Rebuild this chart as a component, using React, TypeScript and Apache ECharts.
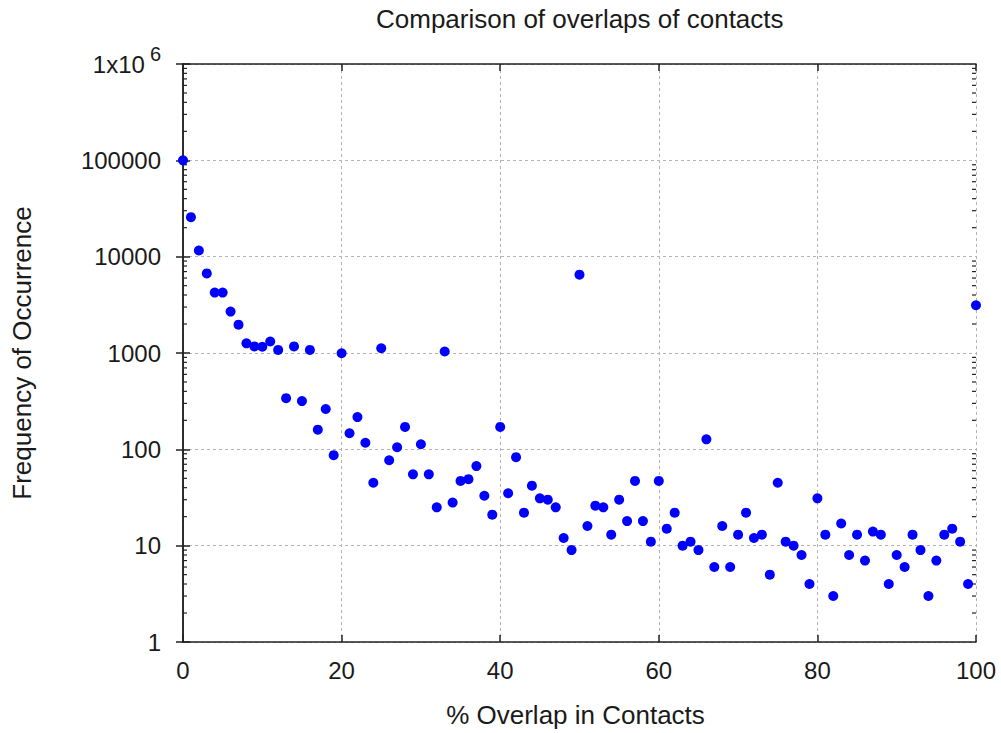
import React, { useEffect, useRef } from "react";
import * as echarts from "echarts";

// Frequency of occurrence for % overlap 0..100 (index = % overlap)
const frequency: number[] = [
  100000, 25700, 11600, 6700, 4240, 4240, 2690, 1970, 1260, 1170,
  1160, 1316, 1077, 340, 1170, 317, 1077, 160, 262, 87,
  995, 147, 216, 117, 45, 1120, 77, 105, 171, 55,
  113, 55, 25, 1036, 28, 47, 49, 67, 33, 21,
  171, 35, 83, 22, 42, 31, 30, 25, 12, 9,
  6500, 16, 26, 25, 13, 30, 18, 47, 18, 11,
  47, 15, 22, 10, 11, 9, 127, 6, 16, 6,
  13, 22, 12, 13, 5, 45, 11, 10, 8, 4,
  31, 13, 3, 17, 8, 13, 7, 14, 13, 4,
  8, 6, 13, 9, 3, 7, 13, 15, 11, 4,
  3130,
];

const xTickValues = [0, 20, 40, 60, 80, 100];
const yDecades = [1, 10, 100, 1000, 10000, 100000, 1000000];
const minorMultipliers = [2, 3, 4, 5, 6, 7, 8, 9];

const titleText = "Comparison of overlaps of contacts";
const xName = "% Overlap in Contacts";
const yName = "Frequency of Occurrence";

export default function App() {
  const ref = useRef<HTMLDivElement>(null);
  useEffect(() => {
    const chart = echarts.init(ref.current!, null, { renderer: "svg" });
    const font = "'Liberation Sans', Arial, sans-serif";
    const axisColor = "#222";
    const textColor = "#1a1a1a";
    const minorTicks: number[][] = [];
    yDecades.slice(0, -1).forEach((d) =>
      minorMultipliers.forEach((m) => minorTicks.push([0, d * m]))
    );
    const points = frequency.map((v, i) => [i, v]);

    chart.setOption({
      animation: false,
      backgroundColor: "#ffffff",
      title: {
        text: titleText,
        left: 371,
        top: 1,
        textStyle: { fontFamily: font, fontSize: 26, fontWeight: "normal", color: textColor },
      },
      grid: { left: 183, right: 25, top: 64, bottom: 90, containLabel: false },
      xAxis: [
        {
          type: "value",
          min: 0,
          max: 100,
          interval: 20,
          position: "bottom",
          name: xName,
          nameLocation: "middle",
          nameGap: 60,
          nameTextStyle: { fontFamily: font, fontSize: 26, color: textColor, verticalAlign: "top", padding: [0, 8, 0, 0] },
          axisLine: { show: true, lineStyle: { color: axisColor, width: 1.5 } },
          axisTick: { show: true, inside: true, length: 7, lineStyle: { color: axisColor, width: 1.5 } },
          axisLabel: {
            margin: 16,
            fontFamily: font,
            fontSize: 24,
            color: textColor,
            formatter: (v: number) => (xTickValues.includes(v) ? String(v) : ""),
          },
          splitLine: { show: true, lineStyle: { color: "#b4b4b4", width: 1, type: [3, 3] } },
        },
        {
          type: "value",
          min: 0,
          max: 100,
          interval: 20,
          position: "top",
          axisLine: { show: true, lineStyle: { color: axisColor, width: 1.5 } },
          axisTick: { show: true, inside: true, length: 7, lineStyle: { color: axisColor, width: 1.5 } },
          axisLabel: { show: false },
          splitLine: { show: false },
        },
      ],
      yAxis: [
        {
          type: "log",
          logBase: 10,
          min: 1,
          max: 1000000,
          splitNumber: 6,
          position: "left",
          name: yName,
          nameLocation: "middle",
          nameGap: 148,
          nameRotate: 90,
          nameTextStyle: { fontFamily: font, fontSize: 26, color: textColor },
          axisLine: { show: true, lineStyle: { color: axisColor, width: 1.5 } },
          axisTick: { show: true, inside: true, length: 7, lineStyle: { color: axisColor, width: 1.5 } },
          axisLabel: {
            margin: 22,
            fontFamily: font,
            fontSize: 24,
            color: textColor,
            formatter: (v: number) => {
              const r = Math.round(v);
              if (r >= 1000000) return "{a|1x10}{s|6}";
              return String(r);
            },
            rich: {
              a: { fontFamily: font, fontSize: 24, lineHeight: 40, color: textColor },
              s: { fontFamily: font, fontSize: 20, lineHeight: 25, padding: [0, 0, 0, 5], verticalAlign: "top", color: textColor },
            },
          },
          splitLine: { show: true, lineStyle: { color: "#b4b4b4", width: 1, type: [3, 3] } },
        },
        {
          type: "log",
          logBase: 10,
          min: 1,
          max: 1000000,
          splitNumber: 6,
          position: "right",
          axisLine: { show: true, lineStyle: { color: axisColor, width: 1.5 } },
          axisTick: { show: true, inside: true, length: 7, lineStyle: { color: axisColor, width: 1.5 } },
          axisLabel: { show: false },
          splitLine: { show: false },
        },
      ],
      series: [
        {
          type: "custom",
          xAxisIndex: 0,
          yAxisIndex: 0,
          silent: true,
          clip: false,
          data: minorTicks,
          renderItem: (params: any, api: any) => {
            const v = api.value(1);
            const l = api.coord([0, v]);
            const r = api.coord([100, v]);
            const style = { stroke: axisColor, lineWidth: 1.2 };
            return {
              type: "group",
              children: [
                { type: "line", shape: { x1: l[0], y1: l[1], x2: l[0] + 4, y2: l[1] }, style },
                { type: "line", shape: { x1: r[0], y1: r[1], x2: r[0] - 4, y2: r[1] }, style },
              ],
            };
          },
        },
        {
          type: "scatter",
          xAxisIndex: 0,
          yAxisIndex: 0,
          data: points,
          symbol: "circle",
          symbolSize: 10,
          clip: false,
          itemStyle: { color: "#0000ff", opacity: 1 },
        },
      ],
    });
    return () => chart.dispose();
  }, []);

  return (
    <div
      ref={ref}
      style={{ position: "absolute", left: 0, top: 0, width: 1001, height: 733 }}
    />
  );
}
